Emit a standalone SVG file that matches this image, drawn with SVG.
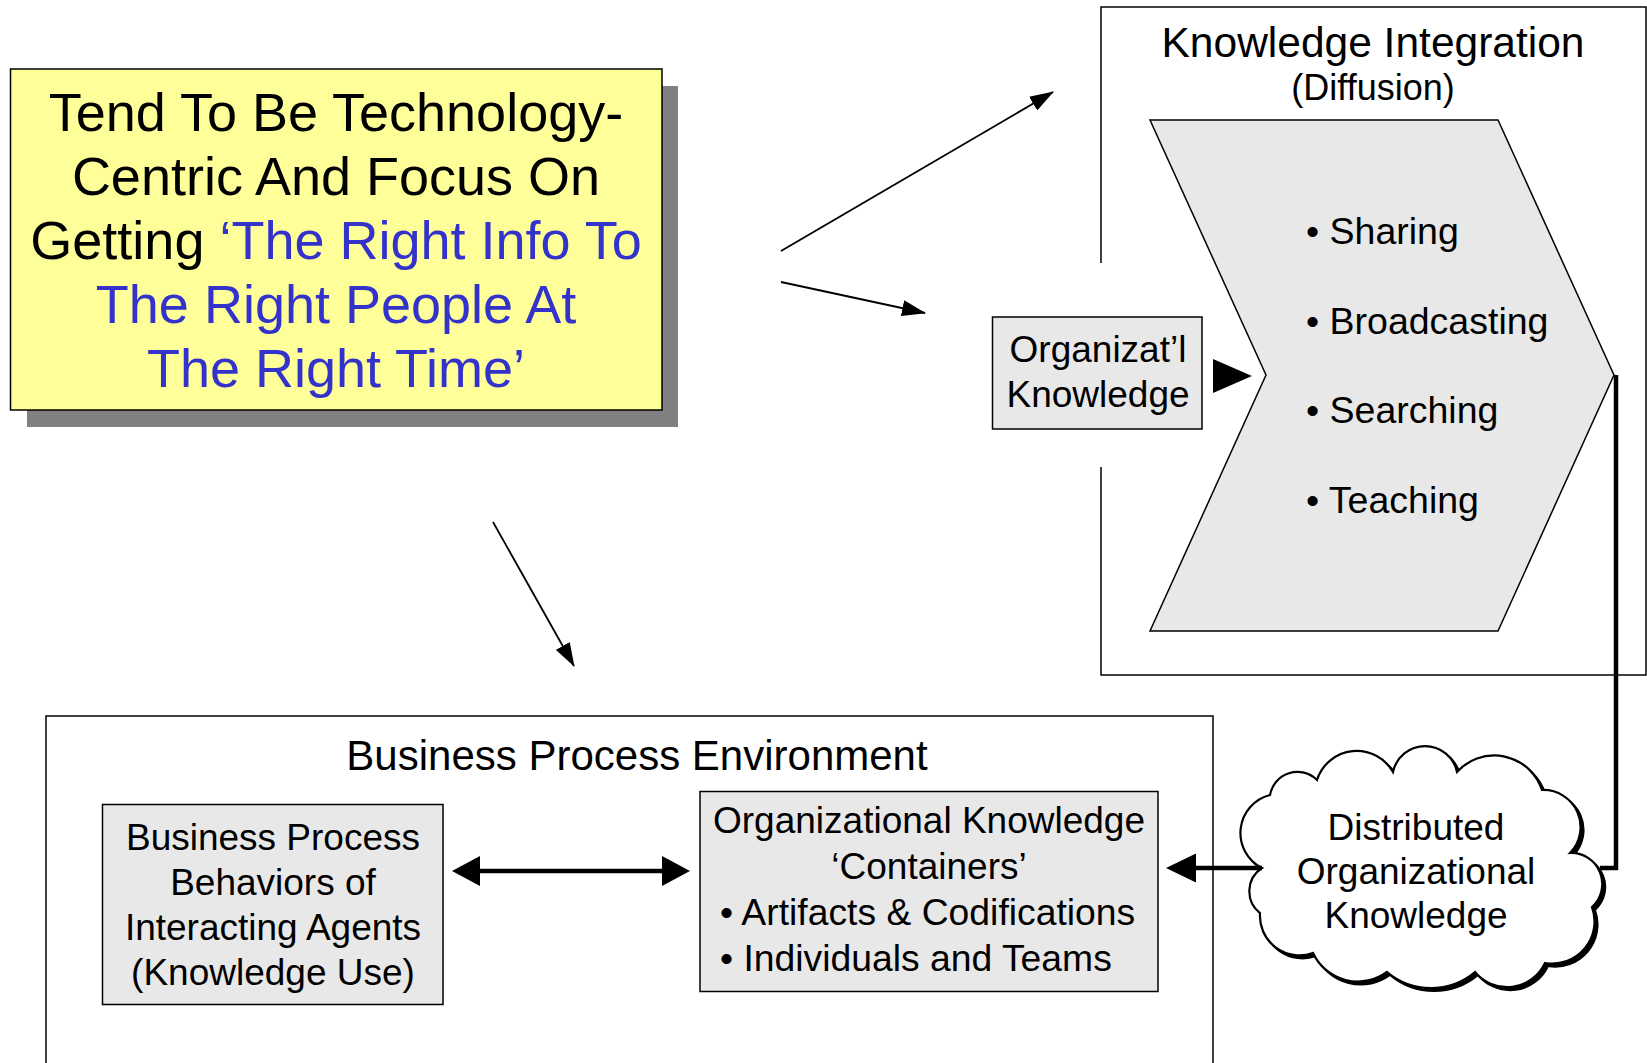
<svg xmlns="http://www.w3.org/2000/svg" width="1647" height="1063" viewBox="0 0 1647 1063">
<style>
text{font-family:"Liberation Sans",Arial,sans-serif;fill:#000}
.c{text-anchor:middle}
.blue{fill:#3333CC}
.box{fill:#E8E8E8;stroke:#000;stroke-width:1.5}
.frame{fill:none;stroke:#000;stroke-width:1.5}
.thin{fill:none;stroke:#000;stroke-width:1.8}
.thick{fill:none;stroke:#000;stroke-width:4.5}
</style>
<defs>
<marker id="ah" markerUnits="userSpaceOnUse" markerWidth="24" markerHeight="16" refX="23" refY="8" orient="auto">
<path d="M0,0 L24,8 L0,16 z" fill="#000"/>
</marker>
<path id="cloudShape" d="M1262,868 A39.2,39.2 0 0 1 1270,795 A27.8,27.8 0 0 1 1317,780 A41.7,41.7 0 0 1 1393,772 A32.7,32.7 0 0 1 1457,772 A50.3,50.3 0 0 1 1542,790 A37.1,37.1 0 0 1 1570,853 A31,31 0 0 1 1592,907 A42.2,42.2 0 0 1 1545,963 A41.7,41.7 0 0 1 1475,972 A68.5,68.5 0 0 1 1387,972 A49.5,49.5 0 0 1 1313,953 A39.6,39.6 0 0 1 1260,913 A27.6,27.6 0 0 1 1262,868 Z"/>
</defs>

<g id="note">
<rect x="27" y="86" width="651" height="341" fill="#808080"/>
<rect x="10.5" y="69" width="651.5" height="341" fill="#FFFF99" stroke="#000" stroke-width="1.5"/>
<text class="c" x="336" y="131" font-size="54">Tend To Be Technology-</text>
<text class="c" x="336" y="195" font-size="54">Centric And Focus On</text>
<text class="c" x="336" y="259" font-size="54">Getting <tspan class="blue">‘The Right Info To</tspan></text>
<text class="c blue" x="336" y="323" font-size="54">The Right People At</text>
<text class="c blue" x="336" y="387" font-size="54">The Right Time’</text>
</g>

<g id="knowledge-integration">
<path class="frame" d="M1101,263 V7 H1646 V675 H1101 V467"/>
<text class="c" x="1373" y="57" font-size="42.5">Knowledge Integration</text>
<text class="c" x="1373" y="100" font-size="36">(Diffusion)</text>
<polygon points="1150,120 1498,120 1614,375 1498,631 1150,631 1266,375" fill="#E8E8E8" stroke="#000" stroke-width="1.5"/>
<text x="1306" y="244" font-size="37.5">• Sharing</text>
<text x="1306" y="334" font-size="37.5">• Broadcasting</text>
<text x="1306" y="423" font-size="37.5">• Searching</text>
<text x="1306" y="513" font-size="37.5">• Teaching</text>
</g>

<g id="org-knowledge">
<rect class="box" x="992.5" y="317" width="209.5" height="112"/>
<text class="c" x="1098" y="362" font-size="37">Organizat’l</text>
<text class="c" x="1098" y="407" font-size="37">Knowledge</text>
</g>

<g id="business-process-environment">
<rect class="frame" x="46" y="716" width="1167" height="360"/>
<text class="c" x="637" y="770" font-size="42">Business Process Environment</text>
</g>

<g id="business-process">
<rect class="box" x="102.5" y="804.5" width="340.5" height="200"/>
<text class="c" x="273" y="850" font-size="37">Business Process</text>
<text class="c" x="273" y="895" font-size="37">Behaviors of</text>
<text class="c" x="273" y="940" font-size="37">Interacting Agents</text>
<text class="c" x="273" y="985" font-size="37">(Knowledge Use)</text>
</g>

<g id="containers">
<rect class="box" x="700" y="791.5" width="458" height="200"/>
<text class="c" x="929" y="833" font-size="37">Organizational Knowledge</text>
<text class="c" x="929" y="879" font-size="37">‘Containers’</text>
<text x="720" y="925" font-size="37.3">• Artifacts &amp; Codifications</text>
<text x="720" y="971" font-size="37.3">• Individuals and Teams</text>
</g>

<g id="cloud">
<use href="#cloudShape" transform="translate(3,3)" fill="#000" stroke="#000" stroke-width="2"/>
<use href="#cloudShape" fill="#fff" stroke="#000" stroke-width="2.2"/>
<text class="c" x="1416" y="840" font-size="37">Distributed</text>
<text class="c" x="1416" y="884" font-size="37">Organizational</text>
<text class="c" x="1416" y="928" font-size="37">Knowledge</text>
</g>

<g id="connectors">
<line class="thin" x1="781" y1="251" x2="1053" y2="92" marker-end="url(#ah)"/>
<line class="thin" x1="781" y1="282" x2="925" y2="313" marker-end="url(#ah)"/>
<line class="thin" x1="493" y1="522" x2="574" y2="666" marker-end="url(#ah)"/>
<polygon points="1213,359 1213,393 1252,376" fill="#000"/>
<path class="thick" d="M1616,375 V868 H1600" stroke-linejoin="miter"/>
<line class="thick" x1="1262" y1="868" x2="1192" y2="868"/>
<polygon points="1166,868 1196,853.5 1196,882.5" fill="#000"/>
<line class="thick" x1="476" y1="871" x2="666" y2="871"/>
<polygon points="452,871 480,856 480,886" fill="#000"/>
<polygon points="690,871 662,856 662,886" fill="#000"/>
</g>
</svg>
